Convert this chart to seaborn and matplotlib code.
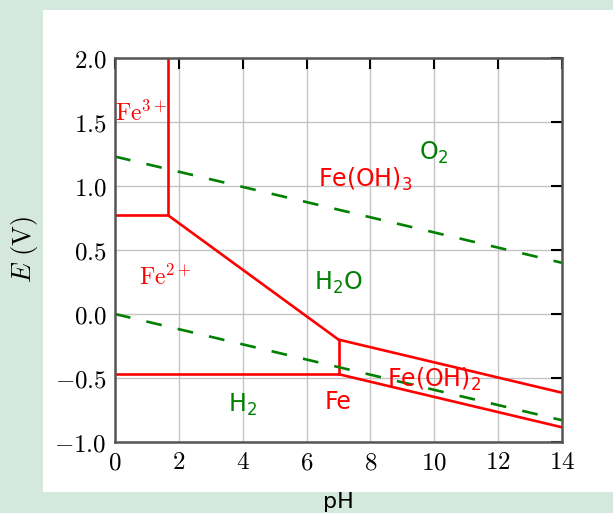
import matplotlib
matplotlib.use("Agg")
import matplotlib.pyplot as plt
from matplotlib.patches import Rectangle
from matplotlib.ticker import FuncFormatter, MultipleLocator
import pandas as pd
import seaborn as sns

# phase boundaries of the iron Pourbaix diagram (pH, E in V)
fe3_feoh3_ph = [1.67, 1.67]
fe3_feoh3_e = [0.77, 2.0]
fe3_fe2_ph = [0.0, 1.67]
fe3_fe2_e = [0.77, 0.77]
fe2_feoh3_ph = [1.67, 7.0]
fe2_feoh3_e = [0.77, -0.20]
fe2_feoh2_ph = [7.0, 7.0]
fe2_feoh2_e = [-0.47, -0.20]
fe2_fe_ph = [0.0, 7.0]
fe2_fe_e = [-0.47, -0.47]
feoh3_feoh2_ph = [7.0, 14.0]
feoh3_feoh2_e = [-0.20, -0.615]
feoh2_fe_ph = [7.0, 14.0]
feoh2_fe_e = [-0.47, -0.885]

# water stability lines
o2_ph = [0.0, 14.0]
o2_e = [1.23, 0.40]
h2_ph = [0.0, 14.0]
h2_e = [0.0, -0.83]

# region labels
iron_labels = [r"Fe(OH)$_3$", r"Fe(OH)$_2$", "Fe"]
iron_label_ph = [7.83, 10.0, 7.0]
iron_label_e = [1.05, -0.51, -0.69]
ion_labels = [r"$\mathrm{Fe}^{3+}$", r"$\mathrm{Fe}^{2+}$"]
ion_label_ph = [0.0, 1.57]
ion_label_e = [1.57, 0.29]
water_labels = [r"O$_2$", r"H$_2$O", r"H$_2$"]
water_label_ph = [10.0, 7.0, 4.0]
water_label_e = [1.26, 0.24, -0.71]


def segments_frame(segs):
    rows = []
    for name, ph, e in segs:
        for x, y in zip(ph, e):
            rows.append({"segment": name, "pH": x, "E": y})
    return pd.DataFrame(rows)


boundaries = segments_frame([
    ("fe3_feoh3", fe3_feoh3_ph, fe3_feoh3_e),
    ("fe3_fe2", fe3_fe2_ph, fe3_fe2_e),
    ("fe2_feoh3", fe2_feoh3_ph, fe2_feoh3_e),
    ("fe2_feoh2", fe2_feoh2_ph, fe2_feoh2_e),
    ("fe2_fe", fe2_fe_ph, fe2_fe_e),
    ("feoh3_feoh2", feoh3_feoh2_ph, feoh3_feoh2_e),
    ("feoh2_fe", feoh2_fe_ph, feoh2_fe_e),
])
water = segments_frame([
    ("o2", o2_ph, o2_e),
    ("h2", h2_ph, h2_e),
])

sns.set_style("white")
plt.rcParams["mathtext.fontset"] = "cm"
plt.rcParams["font.family"] = ["DejaVu Sans"]
for key in ["text.color", "axes.labelcolor", "xtick.color", "ytick.color"]:
    plt.rcParams[key] = "black"

fig = plt.figure(figsize=(6.13, 5.13), dpi=100, facecolor="#d5e8de")
fig.patches.append(Rectangle((43 / 613, 1 - 492 / 513), 1 - 43 / 613, (492 - 10) / 513,
                             transform=fig.transFigure, facecolor="white",
                             edgecolor="none", zorder=-10))
ax = fig.add_axes([115 / 613, 1 - 442 / 513, (562 - 115) / 613, (442 - 58) / 513])
ax.set_facecolor("white")

sns.lineplot(data=boundaries, x="pH", y="E", units="segment", estimator=None,
             sort=False, color="red", lw=1.9, ax=ax)
sns.lineplot(data=water, x="pH", y="E", units="segment", estimator=None,
             sort=False, color="green", lw=1.9, linestyle=(0, (6, 6.2)), ax=ax)

for txt, x, y in zip(iron_labels, iron_label_ph, iron_label_e):
    ax.text(x, y, txt, color="red", fontsize=17, ha="center", va="center",
            math_fontfamily="dejavusans")
for i, (txt, x, y) in enumerate(zip(ion_labels, ion_label_ph, ion_label_e)):
    ax.text(x, y, txt, color="red", fontsize=17, ha="left" if i == 0 else "center",
            va="center")
for txt, x, y in zip(water_labels, water_label_ph, water_label_e):
    ax.text(x, y, txt, color="green", fontsize=17, ha="center", va="center",
            math_fontfamily="dejavusans")

ax.set_xlim(0, 14)
ax.set_ylim(-1.0, 2.0)
ax.xaxis.set_major_locator(MultipleLocator(2))
ax.yaxis.set_major_locator(MultipleLocator(0.5))
ax.xaxis.set_major_formatter(FuncFormatter(lambda v, p: r"$%d$" % round(v)))
ax.yaxis.set_major_formatter(FuncFormatter(lambda v, p: r"$%.1f$" % v))
ax.tick_params(direction="in", length=8, width=1.5, color="black",
               top=True, right=True, labelsize=18, pad=6)
ax.grid(True, color="#c4c4c4", lw=1)
ax.set_axisbelow(True)
for sp in ax.spines.values():
    sp.set_color("#555555")
    sp.set_linewidth(1.8)

ax.set_xlabel("pH", fontsize=16, labelpad=13)
ax.set_ylabel(r"$E\ (\mathrm{V})$", fontsize=19, labelpad=10)

fig.savefig("out.png", dpi=100, facecolor=fig.get_facecolor())
